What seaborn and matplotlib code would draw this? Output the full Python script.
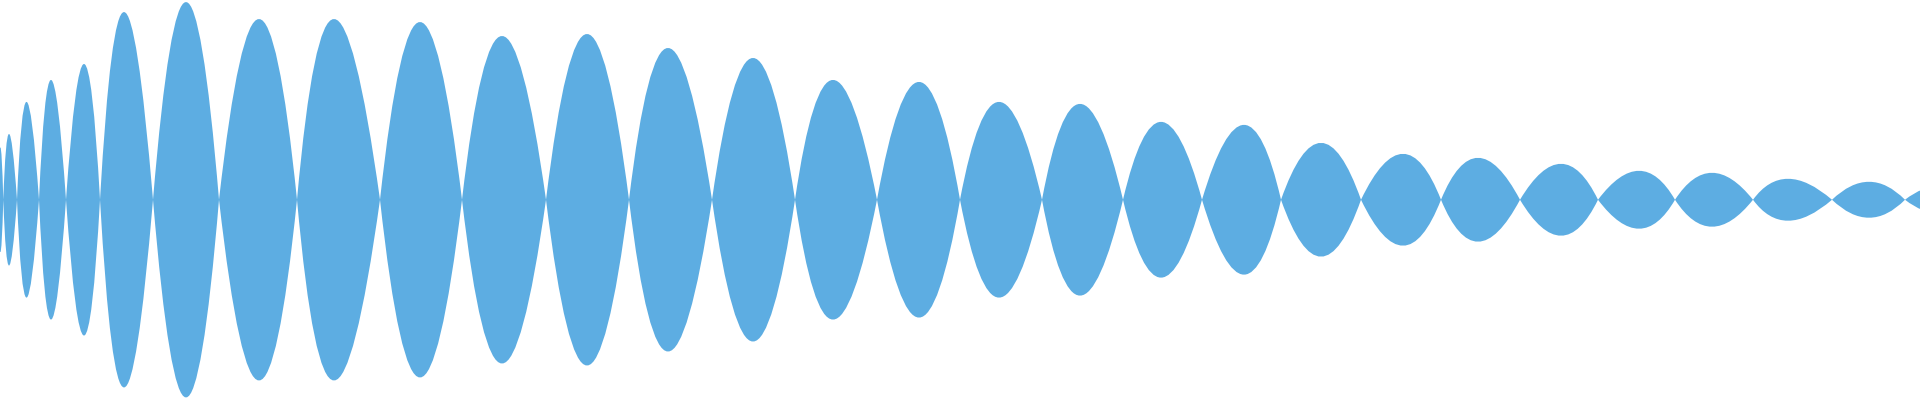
import numpy as np
import matplotlib
matplotlib.use("Agg")
import matplotlib.pyplot as plt
from matplotlib.path import Path
from matplotlib.patches import PathPatch
import seaborn as sns

# ===== data: zero crossings (sample index) and lobe peaks =====
crossings = [-3, 3.3, 17, 39, 66, 100, 153, 219, 297, 380, 462, 546, 629, 712,
             795, 877, 960, 1042, 1123, 1202, 1281, 1361, 1441, 1520, 1598,
             1675, 1753, 1832, 1905, 1978]
peak_pos = [0.3, 9, 26.5, 51, 84, 124, 186, 259, 334, 420, 502, 587, 668, 753,
            833, 919, 999, 1080, 1161, 1244, 1321, 1403, 1478, 1561, 1639,
            1712, 1788, 1869, 1941]
peak_amp = [0.265, 0.33, 0.49, 0.60, 0.68, 0.94, 0.99, 0.905, 0.905, 0.89,
            0.82, 0.83, 0.76, 0.71, 0.60, 0.59, 0.49, 0.48, 0.39, 0.375,
            0.285, 0.23, 0.21, 0.18, 0.145, 0.135, 0.105, 0.09, 0.07]

wave_color = "#5DADE2"


def lobe_controls(sign):
    # quadratic bezier per lobe: apex lands on (peak_pos, peak_amp)
    ctrl = []
    for i in range(len(peak_pos)):
        x0, x1 = crossings[i], crossings[i + 1]
        cx = 2 * peak_pos[i] - (x0 + x1) / 2
        ctrl.append((cx, sign * 2 * peak_amp[i]))
    return ctrl


top_ctrl = lobe_controls(1)
bot_ctrl = lobe_controls(-1)

# top edge left->right, then mirrored bottom edge right->left
verts = [(crossings[0], 0)]
codes = [Path.MOVETO]
for i, c in enumerate(top_ctrl):
    verts += [c, (crossings[i + 1], 0)]
    codes += [Path.CURVE3, Path.CURVE3]
for i in range(len(bot_ctrl) - 1, -1, -1):
    verts += [bot_ctrl[i], (crossings[i], 0)]
    codes += [Path.CURVE3, Path.CURVE3]
verts.append((crossings[0], 0))
codes.append(Path.CLOSEPOLY)

sns.set_theme(style="white")

fig = plt.figure(figsize=(19.2, 4), dpi=100)
ax = fig.add_axes([0, 0, 1, 1])
ax.add_patch(PathPatch(Path(verts, codes), facecolor=wave_color,
                       edgecolor="none", lw=0))
ax.set_xlim(0, 1920)
ax.set_ylim(-1.0025, 1.0)
ax.axis("off")
sns.despine(left=True, bottom=True)

fig.savefig("out.png", dpi=100, facecolor="white")
